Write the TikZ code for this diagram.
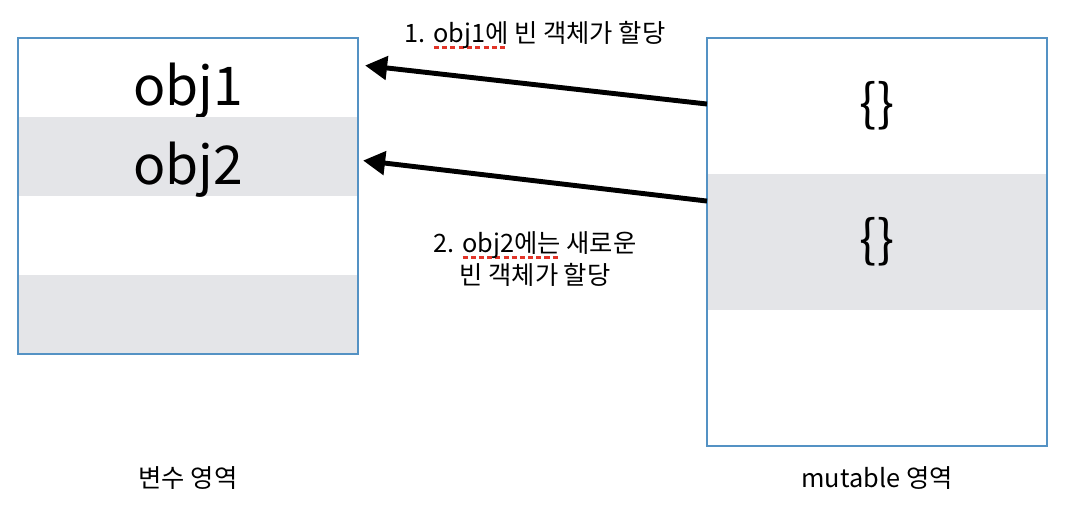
\documentclass[tikz,border=0pt]{standalone}
\usepackage{fontspec}
\setmainfont{Noto Sans CJK KR}
\usepackage{xcolor}
\usepackage{tikz}
\usetikzlibrary{arrows.meta,calc,positioning}
\definecolor{cellgray}{RGB}{228,229,232}
\definecolor{frameblue}{RGB}{84,146,196}
\definecolor{typored}{RGB}{226,52,40}
\newcommand{\spellmark}[1]{\setbox0=\hbox{#1}\rlap{\raisebox{-4.6pt}{\hbox to \wd0{\color{typored}\xleaders\hbox{\rule{3.6pt}{2pt}\hspace{2pt}}\hfill}}}\box0\relax}
\tikzset{
  varcell/.style={minimum width=8.5cm, minimum height=1.975cm, inner sep=0pt, outer sep=0pt, text height=40pt, text depth=0pt, font=\fontsize{38}{40}\selectfont},
  heapcell/.style={minimum width=8.5cm, minimum height=3.4cm, inner sep=0pt, outer sep=0pt, font=\fontsize{36}{38}\selectfont},
  shaded/.style={fill=cellgray},
  frame/.style={draw=frameblue, line width=1.3pt},
  assign/.style={-{Triangle[length=0.55cm, width=0.58cm]}, line width=3.5pt},
  caption/.style={align=center, font=\fontsize{18}{22.6}\selectfont}
}

\begin{document}
\begin{tikzpicture}[x=0.025cm, y=-0.025cm]
  \useasboundingbox (0,0) rectangle (1066,514);

  % 변수 영역
  \node[varcell, anchor=north west] (v1) at (18,38) {obj1};
  \node[varcell, shaded, below=0pt of v1] (v2) {obj2};
  \node[varcell, below=0pt of v2] (v3) {};
  \node[varcell, shaded, below=0pt of v3] (v4) {};
  \draw[frame] (v1.north west) rectangle (v4.south east);

  % mutable 영역
  \node[heapcell, anchor=north west] (m1) at (707,38) {\{\}};
  \node[heapcell, shaded, below=0pt of m1] (m2) {\{\}};
  \node[heapcell, below=0pt of m2] (m3) {};
  \draw[frame] (m1.north west) rectangle (m3.south east);

  \node[caption] (varname) at ($(v4.south)+(0,124)$) {변수 영역};
  \node[caption] (heapname) at ($(m3.south)+(0,32)$) {mutable 영역};

  \coordinate (tip1) at ($(v1.east)+(7,-12)$);
  \coordinate (tip2) at ($(v2.east)+(5,4)$);
  \draw[assign] ($(m1.west)+(0,-2)$) -- (tip1);
  \draw[assign] ($(m2.west)+(0,-41)$) -- (tip2);

  \node[caption] (step1) at (535,35) {1. \spellmark{obj1에} 빈 객체가 할당};
  \node[caption] (step2) at (535,259) {2. \spellmark{obj2에는} 새로운\\빈 객체가 할당};
\end{tikzpicture}
\end{document}
